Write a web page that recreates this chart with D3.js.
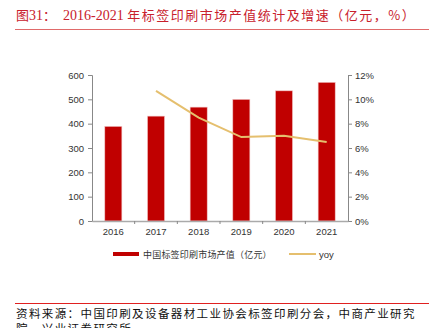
<!DOCTYPE html>
<html>
<head>
<meta charset="utf-8">
<script src="https://cdn.jsdelivr.net/npm/d3@7/dist/d3.min.js"></script>
<style>
  html, body { margin: 0; padding: 0; background: #fff; }
  svg { display: block; }
</style>
</head>
<body>
<svg id="chart" width="429" height="328"></svg>
<script>
// Label printing market size (100 million yuan) and growth rate, 2016-2021
const years = ["2016", "2017", "2018", "2019", "2020", "2021"];
const marketValue = [389, 431, 468, 500, 535, 570];
const growthYears = ["2017", "2018", "2019", "2020", "2021"];
const growthRate = [10.7, 8.5, 6.9, 7.0, 6.5];
const leftTicks = [0, 100, 200, 300, 400, 500, 600];
const rightTicks = [0, 2, 4, 6, 8, 10, 12];
const seriesNames = ["中国标签印刷市场产值（亿元）", "yoy"];

const svg = d3.select("#chart");
const red = "#c00000";
const gold = "#e5bf6e";
const titleRed = "#c8202c";
const cjk = "'Noto Sans CJK SC', sans-serif";
const latin = "'Liberation Sans', Arial, sans-serif";
const serif = "'Liberation Serif', serif";

// Title
const title = svg.append("text")
  .attr("y", 20)
  .attr("fill", titleRed)
  .style("font-size", "13px");
title.append("tspan").attr("x", 16).style("font-family", cjk).text("图");
title.append("tspan").style("font-family", serif).style("font-size", "14px").text("31");
title.append("tspan").style("font-family", cjk).text("：");
title.append("tspan").attr("x", 63).style("font-family", serif).style("font-size", "14px").text("2016-2021 ");
title.append("tspan").style("font-family", cjk).attr("letter-spacing", "1.5").text("年标签印刷市场产值统计及增速（亿元，%）");

svg.append("line").attr("x1", 15).attr("x2", 429).attr("y1", 29.5).attr("y2", 29.5)
  .attr("stroke", "#e06a6a").attr("stroke-width", 1);

// Scales
const xFull = d3.scaleBand().domain(years).range([92, 348]);
const yL = d3.scaleLinear().domain([0, 600]).range([221, 75]);
const yR = d3.scaleLinear().domain([0, 12]).range([221, 75]);
const barWidth = xFull.bandwidth() * 0.4;

// Bars
svg.append("g").selectAll("rect").data(years).join("rect")
  .attr("x", (d) => xFull(d) + (xFull.bandwidth() - barWidth) / 2)
  .attr("width", barWidth)
  .attr("y", (d, i) => yL(marketValue[i]))
  .attr("height", (d, i) => yL(0) - yL(marketValue[i]))
  .attr("fill", red)
  .attr("stroke", "#f2c6c6")
  .attr("stroke-width", 0.6);

// Growth line
const line = d3.line()
  .x((d, i) => xFull(growthYears[i]) + xFull.bandwidth() / 2)
  .y((d) => yR(d));
svg.append("path").datum(growthRate)
  .attr("d", line)
  .attr("fill", "none")
  .attr("stroke", gold)
  .attr("stroke-width", 2);

// Axes
const axisColor = "#888";
const labelColor = "#333";

const leftAxis = svg.append("g").attr("transform", "translate(92,0)")
  .call(d3.axisLeft(yL).tickValues(leftTicks).tickSize(4).tickPadding(4));
const rightAxis = svg.append("g").attr("transform", "translate(348,0)")
  .call(d3.axisRight(yR).tickValues(rightTicks).tickSize(4).tickPadding(3).tickFormat((d) => d + "%"));
const bottomAxis = svg.append("g").attr("transform", "translate(0,221)")
  .call(d3.axisBottom(xFull).tickSize(0).tickPadding(7));

// Tick marks between categories on the x axis
svg.append("g").selectAll("line").data(years.slice(1)).join("line")
  .attr("x1", (d) => xFull(d)).attr("x2", (d) => xFull(d))
  .attr("y1", 221).attr("y2", 224)
  .attr("stroke", axisColor);

[leftAxis, rightAxis, bottomAxis].forEach((g) => {
  g.selectAll("path.domain").attr("stroke", axisColor);
  g.selectAll(".tick line").attr("stroke", axisColor);
  g.selectAll("text").attr("fill", labelColor).style("font-family", latin).style("font-size", "9.5px");
});
bottomAxis.select("path.domain").attr("stroke", "#aaa").attr("stroke-width", 1.5);

// Legend
const legend = svg.append("g");
legend.append("rect").attr("x", 113).attr("y", 252).attr("width", 26).attr("height", 4).attr("fill", red);
legend.append("text").attr("x", 143).attr("y", 257.5)
  .style("font-family", cjk).style("font-size", "9px").attr("letter-spacing", "0.2").attr("fill", "#333")
  .text(seriesNames[0]);
legend.append("line").attr("x1", 289).attr("x2", 316).attr("y1", 254).attr("y2", 254)
  .attr("stroke", gold).attr("stroke-width", 2);
legend.append("text").attr("x", 319).attr("y", 257.5)
  .style("font-family", latin).style("font-size", "9.5px").attr("fill", "#333")
  .text(seriesNames[1]);

// Source note
svg.append("line").attr("x1", 15).attr("x2", 429).attr("y1", 303.5).attr("y2", 303.5)
  .attr("stroke", "#e02020").attr("stroke-width", 1);
const note = svg.append("text").attr("fill", "#111")
  .style("font-family", cjk).style("font-size", "11.5px").attr("letter-spacing", "1.4");
note.append("tspan").attr("x", 16).attr("y", 318).text("资料来源：中国印刷及设备器材工业协会标签印刷分会，中商产业研究");
note.append("tspan").attr("x", 16).attr("y", 333).text("院，兴业证券研究所");
</script>
</body>
</html>
